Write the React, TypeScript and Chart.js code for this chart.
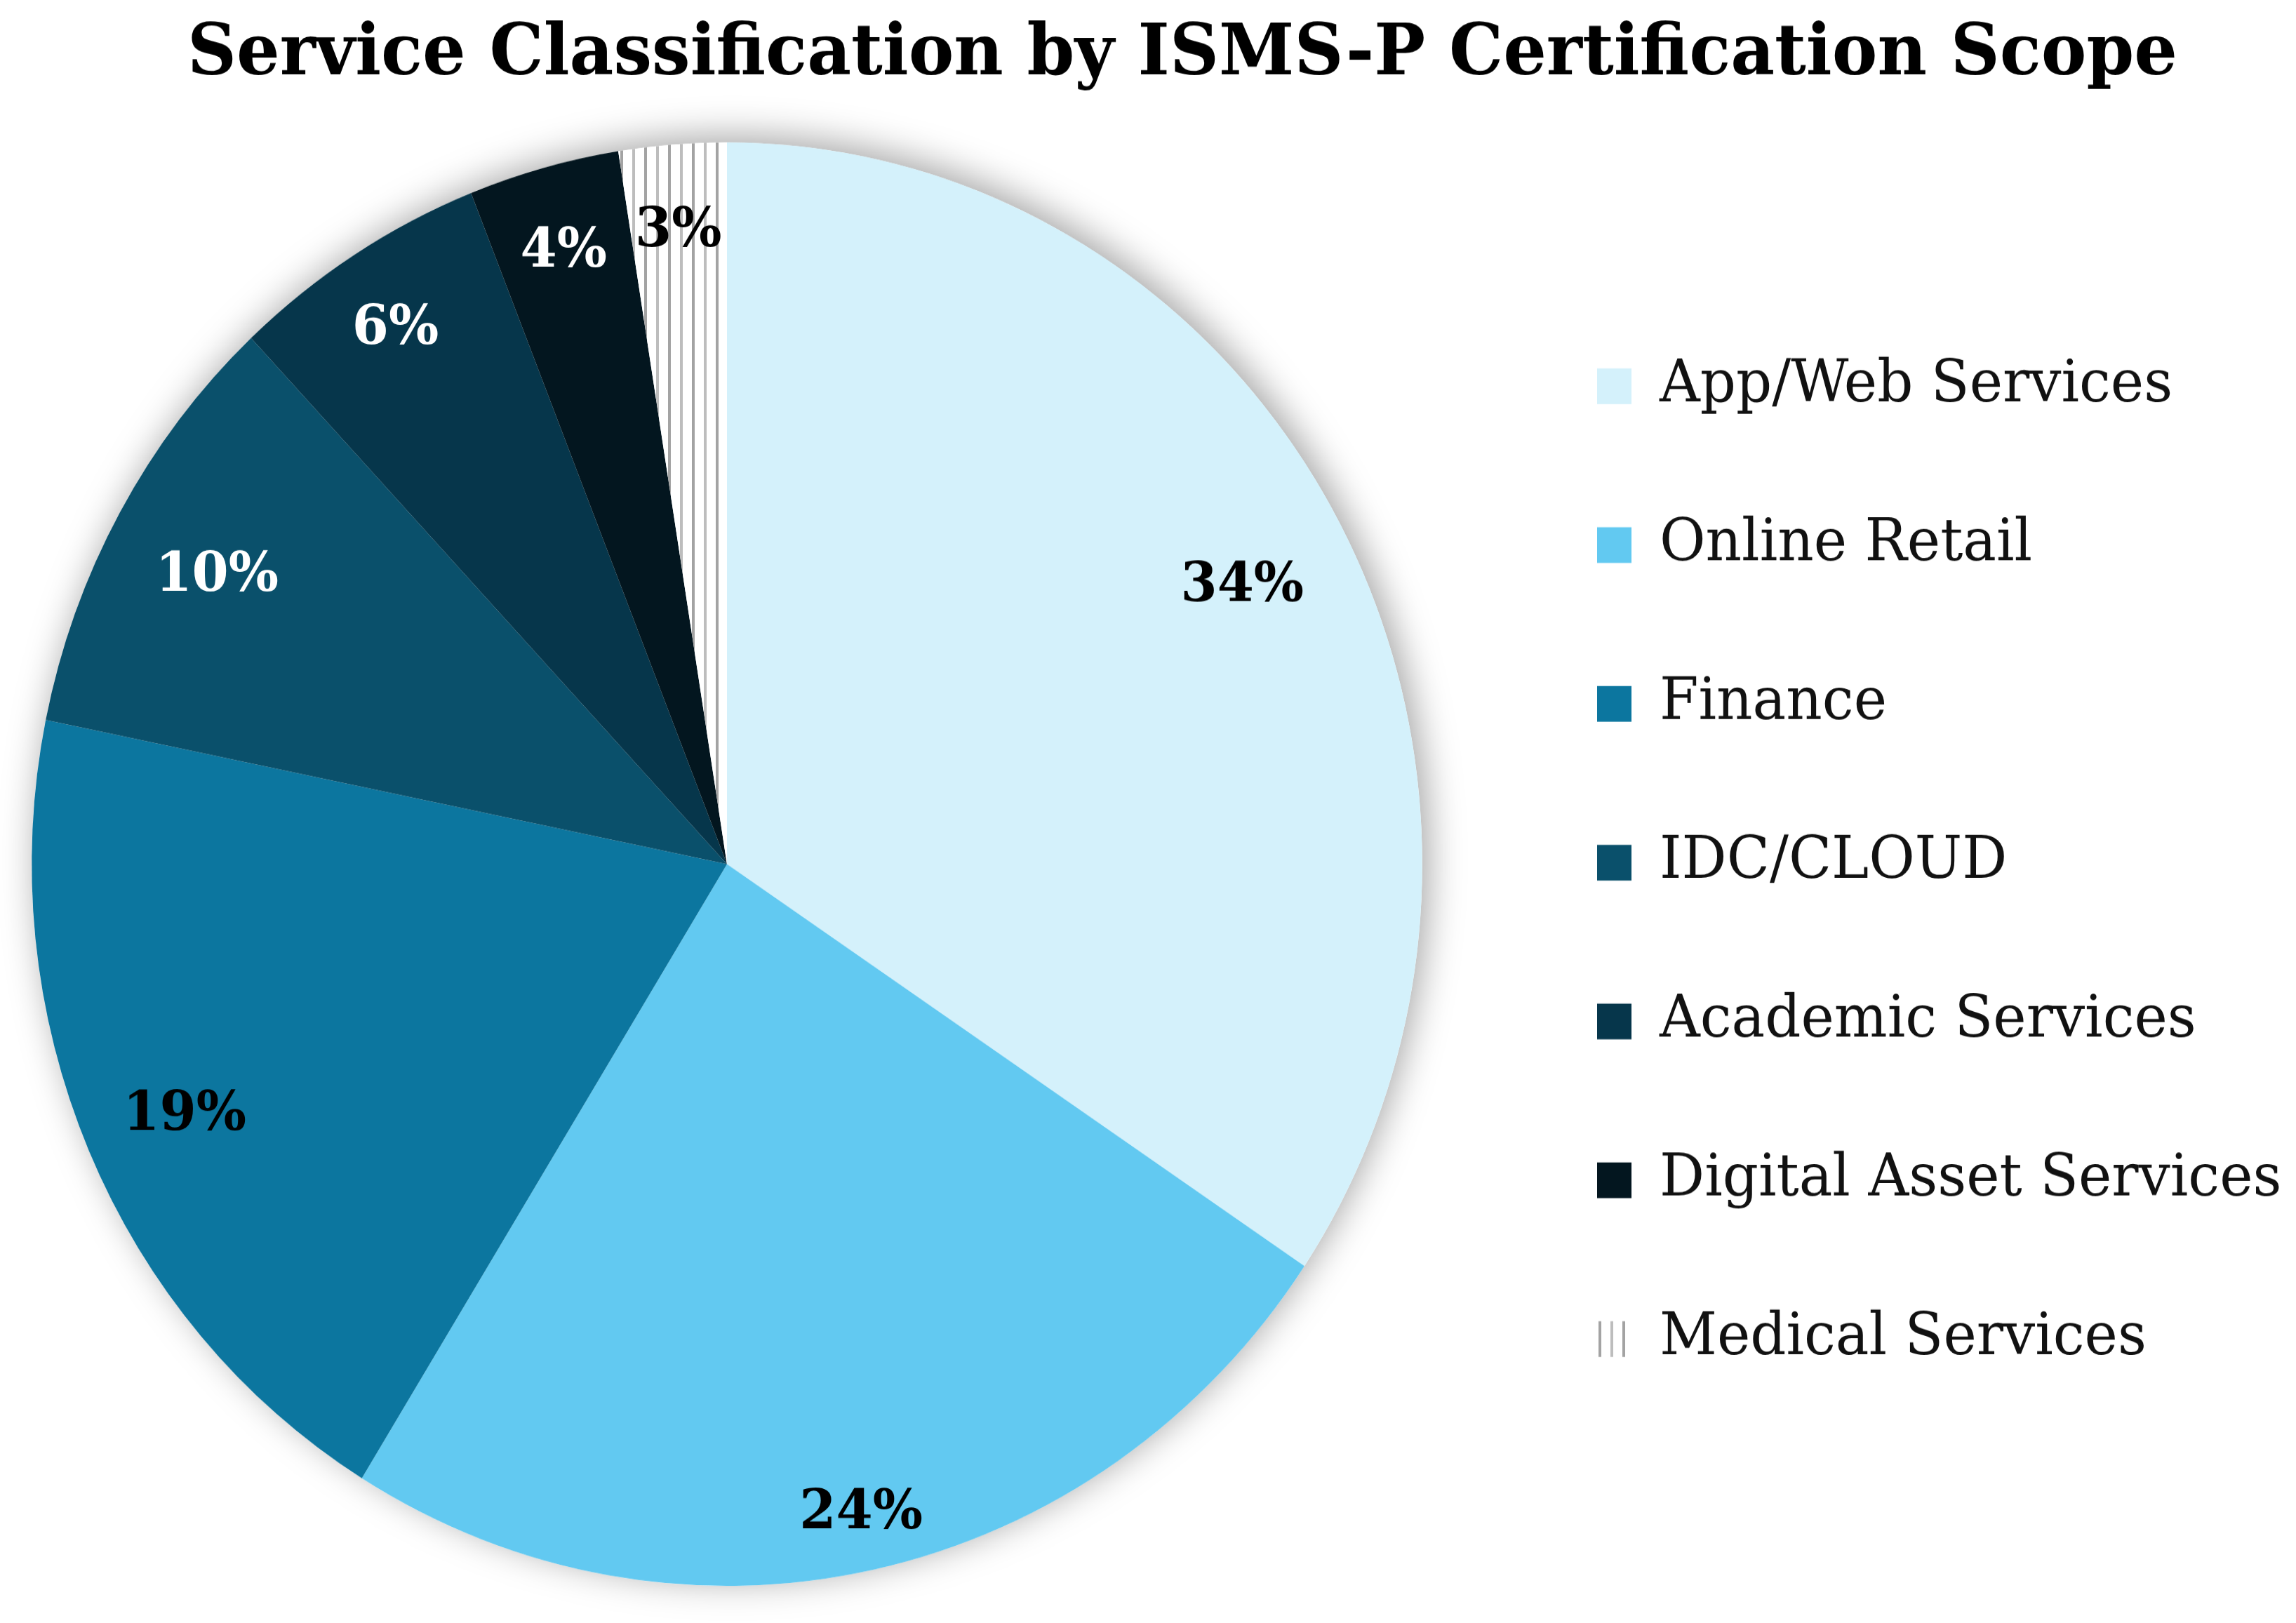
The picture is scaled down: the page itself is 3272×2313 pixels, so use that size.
import React, { useEffect, useRef } from 'react';
import { Chart, registerables } from 'chart.js';

Chart.register(...registerables);

// ---------- data ----------
const TITLE = 'Service Classification by ISMS-P Certification Scope';
const categories = [
  'App/Web Services',
  'Online Retail',
  'Finance',
  'IDC/CLOUD',
  'Academic Services',
  'Digital Asset Services',
  'Medical Services',
];
const shares = [34.4, 24.4, 19.4, 9.8, 6.0, 3.5, 2.5];

// ---------- styles ----------
const sliceColors = ['#d4f1fb', '#62c9f1', '#0c769f', '#0a506b', '#06364b', '#03161f', 'pattern'];
const percentLabelColors = ['#000000', '#000000', '#000000', '#ffffff', '#ffffff', '#ffffff', '#000000'];
const percentLabelRadius = [0.84, 0.91, 0.85, 0.84, 0.89, 0.89, 0.89];
const LABEL_DY = 11;

const PAGE_W = 3272;
const PAGE_H = 2313;
const CANVAS_H = 2228;
const LEGEND_WIDTH = 1298;
const LEGEND_SHIFT_X = 66;
const LEGEND_SHIFT_Y = -2;

const pieShadow = {
  id: 'pieShadow',
  beforeDatasetsDraw(chart: any) {
    const arc = chart.getDatasetMeta(0).data[0];
    if (!arc) return;
    const { x, y, outerRadius } = arc.getProps(['x', 'y', 'outerRadius'], true);
    const ctx = chart.ctx;
    ctx.save();
    ctx.shadowColor = 'rgba(0,0,0,0.36)';
    ctx.shadowBlur = 52;
    ctx.shadowOffsetX = 8;
    ctx.shadowOffsetY = -8;
    ctx.fillStyle = '#ffffff';
    ctx.beginPath();
    ctx.arc(x, y, outerRadius, 0, Math.PI * 2);
    ctx.fill();
    ctx.restore();
  },
};

const percentLabels = {
  id: 'percentLabels',
  afterDatasetsDraw(chart: any) {
    const meta = chart.getDatasetMeta(0);
    const data = chart.data.datasets[0].data as number[];
    const total = data.reduce((a, b) => a + b, 0);
    const ctx = chart.ctx;
    ctx.save();
    ctx.font = 'bold 75px "DejaVu Serif"';
    ctx.textAlign = 'center';
    ctx.textBaseline = 'middle';
    meta.data.forEach((el: any, i: number) => {
      const { x, y, startAngle, endAngle, outerRadius } = el.getProps(
        ['x', 'y', 'startAngle', 'endAngle', 'outerRadius'],
        true
      );
      const mid = (startAngle + endAngle) / 2;
      const r = outerRadius * percentLabelRadius[i];
      ctx.fillStyle = percentLabelColors[i];
      ctx.fillText(
        `${Math.round((data[i] * 100) / total)}%`,
        x + Math.cos(mid) * r,
        y + Math.sin(mid) * r + LABEL_DY
      );
    });
    ctx.restore();
  },
};

const legendPlacement = {
  id: 'legendPlacement',
  afterInit(chart: any) {
    const lg = chart.legend;
    if (!lg || lg.__patched) return;
    const orig = lg.fit;
    lg.fit = function () {
      orig.call(this);
      this.width = LEGEND_WIDTH;
    };
    lg.__patched = true;
  },
  afterLayout(chart: any) {
    const lg = chart.legend;
    if (!lg) return;
    lg.left += LEGEND_SHIFT_X;
    lg.right += LEGEND_SHIFT_X;
    lg.top += LEGEND_SHIFT_Y;
    lg.bottom += LEGEND_SHIFT_Y;
  },
};

export default function App() {
  const canvasRef = useRef<HTMLCanvasElement>(null);

  useEffect(() => {
    document.body.style.margin = '0';
    document.body.style.overflow = 'hidden';
    const canvas = canvasRef.current!;
    const ctx = canvas.getContext('2d')!;

    const tile = document.createElement('canvas');
    tile.width = 34;
    tile.height = 8;
    const t = tile.getContext('2d')!;
    t.fillStyle = '#ffffff';
    t.fillRect(0, 0, 34, 8);
    t.fillStyle = '#a3a3a3';
    t.fillRect(0, 0, 4, 8);
    t.fillStyle = '#bdbdbd';
    t.fillRect(17, 0, 4, 8);
    const pattern = ctx.createPattern(tile, 'repeat')!;
    const bg = sliceColors.map((c) => (c === 'pattern' ? pattern : c));

    const chart = new Chart(canvas, {
      type: 'pie',
      data: {
        labels: categories,
        datasets: [{ data: shares, backgroundColor: bg as any, borderWidth: 0, hoverOffset: 0 }],
      },
      options: {
        responsive: true,
        maintainAspectRatio: false,
        animation: false,
        devicePixelRatio: 1,
        events: [],
        layout: { padding: { left: 0, right: -98, top: 0, bottom: 51 } },
        plugins: {
          title: {
            display: true,
            text: TITLE,
            color: '#000000',
            font: { family: 'DejaVu Serif', weight: 'bold', size: 97, lineHeight: 1.2 },
            padding: { top: 19, bottom: 60 },
          },
          legend: {
            position: 'right',
            align: 'center',
            fullSize: false,
            labels: {
              boxWidth: 49,
              boxHeight: 49,
              padding: 138,
              color: '#111111',
              font: { family: 'DejaVu Serif', size: 80 },
            },
          },
          tooltip: { enabled: false },
        },
      } as any,
      plugins: [pieShadow, percentLabels, legendPlacement],
    });

    return () => chart.destroy();
  }, []);

  return (
    <div style={{ width: PAGE_W, height: PAGE_H, position: 'relative', overflow: 'hidden', background: '#ffffff' }}>
      <div
        style={{
          width: PAGE_W,
          height: CANVAS_H,
          transform: `scaleY(${PAGE_H / CANVAS_H})`,
          transformOrigin: 'top left',
        }}
      >
        <canvas ref={canvasRef} />
      </div>
    </div>
  );
}
